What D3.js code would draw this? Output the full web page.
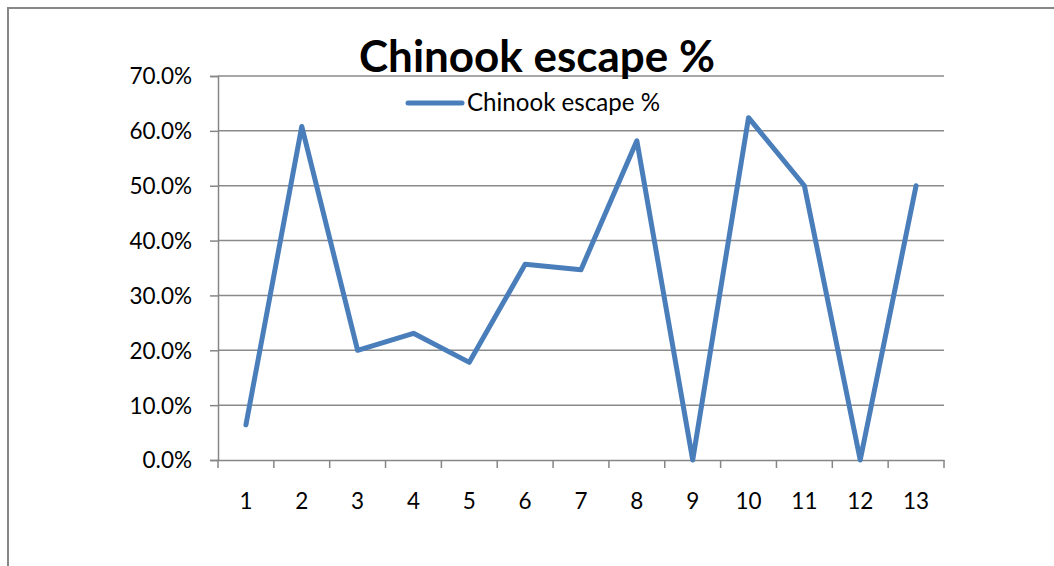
<!DOCTYPE html>
<html>
<head>
<meta charset="utf-8">
<script src="https://cdn.jsdelivr.net/npm/d3@7"></script>
<style>
  body { margin: 0; background: #fff; }
  text { font-family: Lato, "Open Sans", sans-serif; fill: #000; }
</style>
</head>
<body>
<div id="chart"></div>
<script>
// data
const categories = ["1","2","3","4","5","6","7","8","9","10","11","12","13"];
const escapePct = [0.064, 0.608, 0.200, 0.231, 0.178, 0.357, 0.347, 0.582, 0.0, 0.624, 0.500, 0.0, 0.500];
const yTicks = [0, 0.1, 0.2, 0.3, 0.4, 0.5, 0.6, 0.7];
const seriesName = "Chinook escape %";

const W = 1054, H = 566;
const margin = { top: 76, right: 110, bottom: 106, left: 218 };
const width = W - margin.left - margin.right;
const height = H - margin.top - margin.bottom;

const svg = d3.select("#chart").append("svg")
  .attr("width", W)
  .attr("height", H);

// outer chart border
svg.append("rect")
  .attr("x", 8).attr("y", 8)
  .attr("width", W + 20).attr("height", H + 20)
  .attr("fill", "none")
  .attr("stroke", "#878787")
  .attr("stroke-width", 2);

const g = svg.append("g")
  .attr("transform", "translate(" + margin.left + "," + margin.top + ")");

const x = d3.scaleBand().domain(categories).range([0, width]);
const y = d3.scaleLinear().domain([0, 0.7]).range([height, 0]);

// gridlines
g.append("g")
  .selectAll("line")
  .data(yTicks.filter(d => d > 0))
  .enter().append("line")
    .attr("x1", 0).attr("x2", width)
    .attr("y1", d => y(d)).attr("y2", d => y(d))
    .attr("stroke", "#8a8a8a")
    .attr("stroke-width", 1.5);

// y axis
const yAxis = g.append("g")
  .call(d3.axisLeft(y).tickValues(yTicks).tickFormat(d3.format(".1%")).tickSize(8).tickPadding(18));
yAxis.select(".domain").attr("stroke", "#868686").attr("stroke-width", 1.5);
yAxis.selectAll(".tick line").attr("stroke", "#868686").attr("stroke-width", 1.5);
yAxis.selectAll("text").style("font-size", "22.5px").attr("dy", "0.35em");

// x axis
const xAxis = g.append("g")
  .attr("transform", "translate(0," + height + ")")
  .call(d3.axisBottom(x).tickSize(0).tickPadding(33));
xAxis.select(".domain").attr("stroke", "#868686").attr("stroke-width", 1.5);
xAxis.selectAll("text").style("font-size", "22.5px");
xAxis.selectAll(".tick line").remove();
// tick marks on band boundaries
g.append("g")
  .selectAll("line")
  .data(d3.range(categories.length + 1))
  .enter().append("line")
    .attr("x1", i => i * x.step()).attr("x2", i => i * x.step())
    .attr("y1", height).attr("y2", height + 8)
    .attr("stroke", "#868686")
    .attr("stroke-width", 1.5);

// series line
const line = d3.line()
  .x((d, i) => x(categories[i]) + x.bandwidth() / 2)
  .y(d => y(d));
g.append("path")
  .datum(escapePct)
  .attr("d", line)
  .attr("fill", "none")
  .attr("stroke", "#4a7ebb")
  .attr("stroke-width", 5)
  .attr("stroke-linejoin", "round")
  .attr("stroke-linecap", "round");

// title
const title = svg.append("text")
  .attr("x", 537).attr("y", 72)
  .attr("text-anchor", "middle")
  .style("font-size", "40px")
  .style("font-weight", "bold")
  .text(seriesName);
const tw = title.node().getComputedTextLength();
title.style("font-size", (40 * 356 / tw) + "px");

// legend
const legend = svg.append("g").attr("transform", "translate(408,103)");
legend.append("line")
  .attr("x1", 0).attr("x2", 54)
  .attr("stroke", "#4a7ebb")
  .attr("stroke-width", 5)
  .attr("stroke-linecap", "round");
const lt = legend.append("text")
  .attr("x", 59).attr("y", 8)
  .style("font-size", "20px")
  .text(seriesName);
const lw = lt.node().getComputedTextLength();
lt.style("font-size", (20 * 193 / lw) + "px");
</script>
</body>
</html>
